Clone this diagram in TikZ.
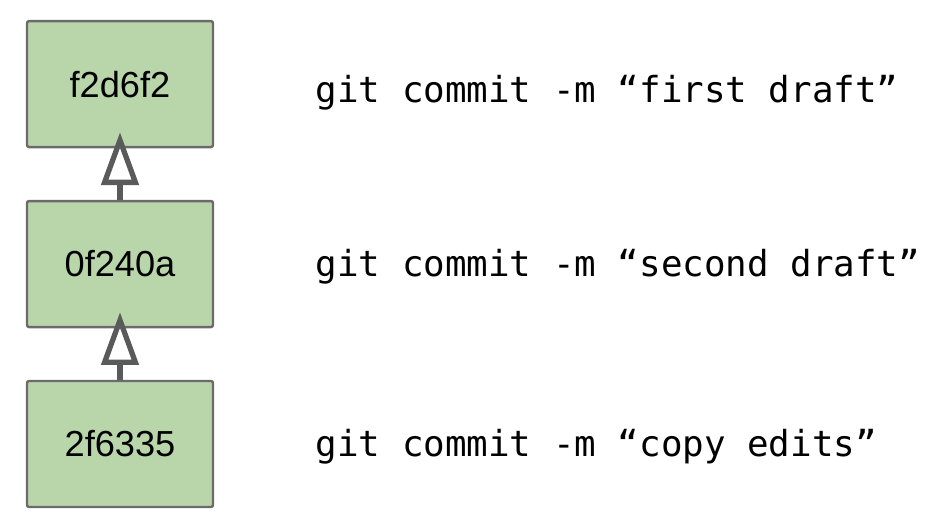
\documentclass[tikz,border=0pt]{standalone}
\usepackage{fontspec}
\setmainfont{Liberation Sans}
\newfontfamily\monofont{DejaVu Sans Mono}
\usetikzlibrary{positioning,arrows.meta}
\definecolor{commitgreen}{HTML}{B9D6AA}
\definecolor{commitborder}{HTML}{6B6B6B}
\definecolor{arrowgray}{HTML}{5A5A5A}
\begin{document}
\begin{tikzpicture}[node distance=0.515cm,
	  commit node/.style={rectangle,draw=commitborder,fill=commitgreen,line width=0.7pt,
	    rounded corners=0.6pt,minimum width=1.86cm,minimum height=1.26cm,inner sep=0pt,
	    font=\fontsize{10.3}{12}\selectfont},
	  msg/.style={anchor=base west,inner sep=0pt,font=\monofont\fontsize{10.2}{12}\selectfont},
	  parent/.style={draw=arrowgray,line width=1.5pt,
	    -{Triangle[open,length=15pt,width=10.5pt]}}]
	\useasboundingbox (0,0) rectangle (9.52,5.26);

	  \node[commit node] (3) at (1.20,0.82) {2f6335};
	  \node[commit node] (2) [above=of 3] {0f240a};
	  \node[commit node] (1) [above=of 2] {f2d6f2};

	  \node[msg] (m1) at (3.15,4.23) {git commit -m “first draft”};
	  \node[msg] (m2) at (3.15,2.49) {git commit -m “second draft”};
	  \node[msg] (m3) at (3.15,0.69) {git commit -m “copy edits”};

	  \draw[parent] (3.north) -- ([yshift=0.16cm]2.south);
	  \draw[parent] (2.north) -- ([yshift=0.16cm]1.south);

	\end{tikzpicture}
\end{document}
